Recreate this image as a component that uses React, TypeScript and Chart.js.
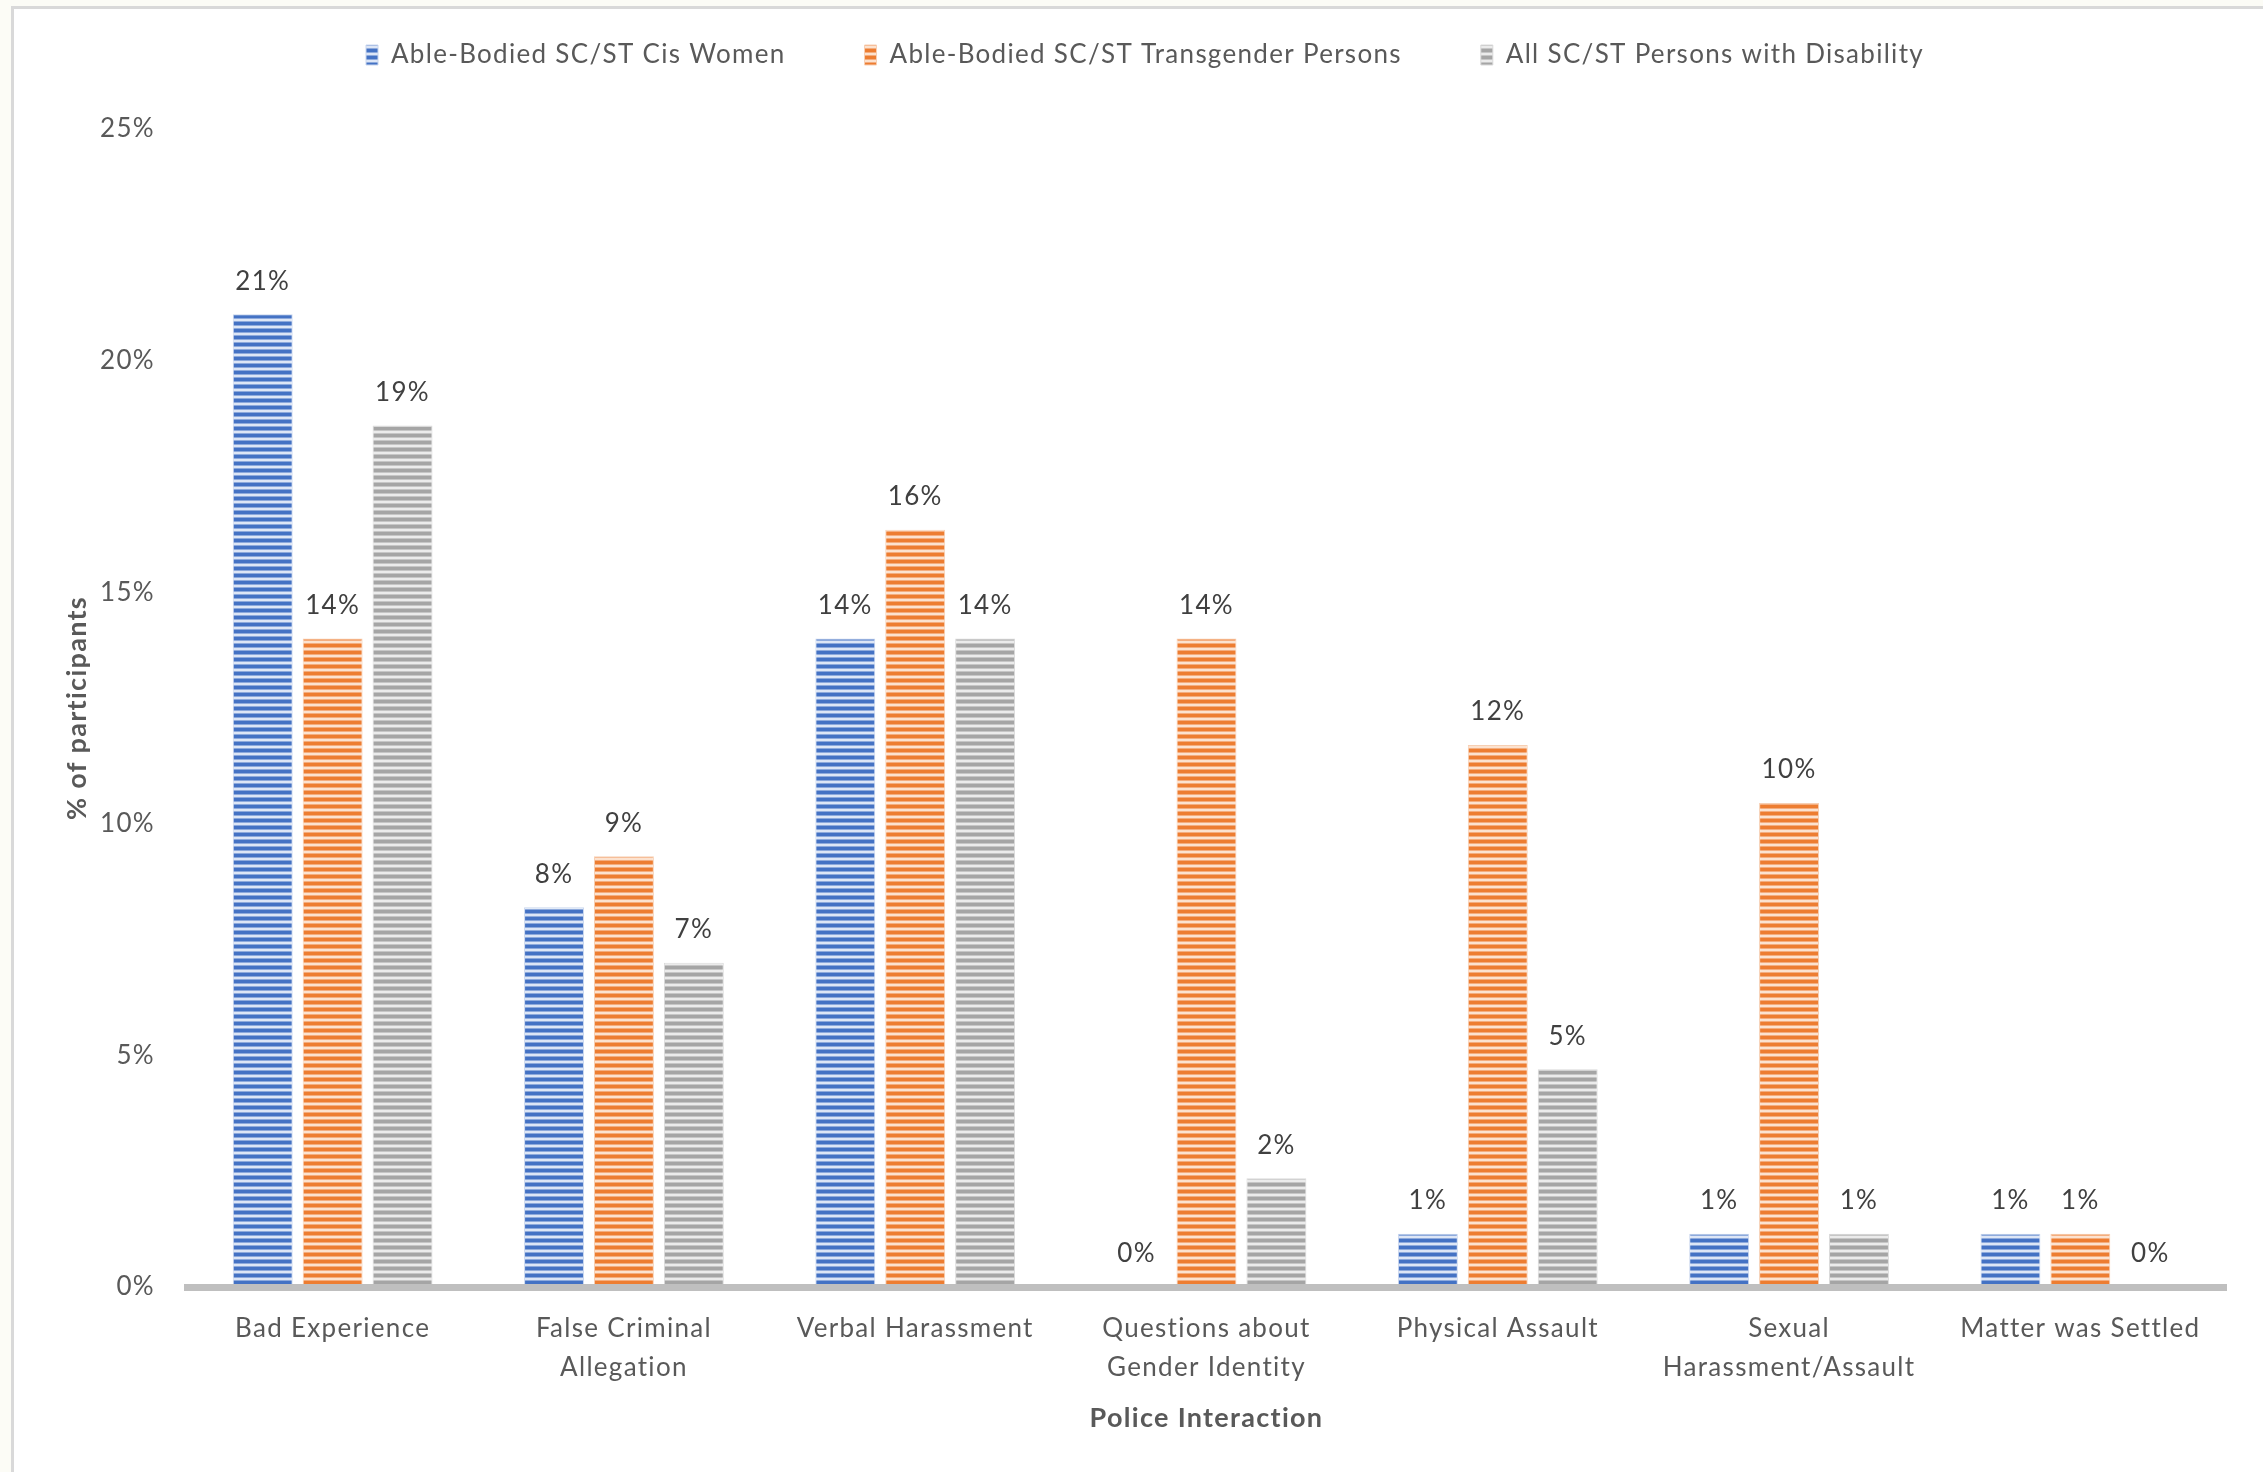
import React, { useEffect, useRef } from 'react';
import { Chart, registerables } from 'chart.js';

Chart.register(...registerables);

const categories: (string | string[])[] = [
  'Bad Experience',
  ['False Criminal', 'Allegation'],
  'Verbal Harassment',
  ['Questions about', 'Gender Identity'],
  'Physical Assault',
  ['Sexual', 'Harassment/Assault'],
  'Matter was Settled',
];

const seriesNames = [
  'Able-Bodied SC/ST Cis Women',
  'Able-Bodied SC/ST Transgender Persons',
  'All SC/ST Persons with Disability',
];

const cisWomen = [21.0, 8.2, 14.0, 0, 1.15, 1.15, 1.15];
const transgender = [14.0, 9.3, 16.35, 14.0, 11.7, 10.45, 1.15];
const disability = [18.6, 7.0, 14.0, 2.35, 4.7, 1.15, 0];

const yMax = 25;
const yStep = 5;

const xTitle = 'Police Interaction';
const yTitle = '% of participants';

const FONT = 'Lato';
const LETTER_SPACING = '1.3px';

function stripePattern(dark: string, mid: string, light: string): CanvasPattern | string {
  const c = document.createElement('canvas');
  c.width = 4;
  c.height = 7;
  const g = c.getContext('2d');
  if (!g) return dark;
  const rows = [dark, dark, dark, mid, light, light, mid];
  rows.forEach((col, i) => {
    g.fillStyle = col;
    g.fillRect(0, i, 4, 1);
  });
  return g.createPattern(c, 'repeat') || dark;
}

function applySpacing(chart: any) {
  try {
    (chart.ctx as any).letterSpacing = LETTER_SPACING;
  } catch (e) {
    /* ignore */
  }
}

const spacing = {
  id: 'spacing',
  beforeUpdate(chart: any) {
    applySpacing(chart);
  },
  beforeLayout(chart: any) {
    applySpacing(chart);
  },
  beforeDraw(chart: any) {
    applySpacing(chart);
  },
};

const valueLabels = {
  id: 'valueLabels',
  afterDatasetsDraw(chart: any) {
    const ctx = chart.ctx;
    ctx.save();
    ctx.font = `26px ${FONT}`;
    ctx.fillStyle = '#404040';
    ctx.textAlign = 'center';
    ctx.textBaseline = 'middle';
    chart.data.datasets.forEach((ds: any, i: number) => {
      const meta = chart.getDatasetMeta(i);
      meta.data.forEach((bar: any, j: number) => {
        const v = ds.data[j] as number;
        ctx.fillText(Math.round(v) + '%', bar.x, bar.y - 33);
      });
    });
    ctx.restore();
  },
};

export default function App() {
  const ref = useRef<HTMLCanvasElement | null>(null);

  useEffect(() => {
    if (!ref.current) return;
    const blue = stripePattern('#4472C4', '#8eaadc', '#dde6f6');
    const orange = stripePattern('#ED7D31', '#f4ad7e', '#fce2cf');
    const grey = stripePattern('#A5A5A5', '#c6c6c6', '#ebebeb');

    const common = { borderWidth: 1, categoryPercentage: 0.72, barPercentage: 0.857 };

    const chart = new Chart(ref.current, {
      type: 'bar',
      data: {
        labels: categories,
        datasets: [
          { label: seriesNames[0], data: cisWomen, backgroundColor: blue as any, borderColor: '#c9d6ee', ...common },
          { label: seriesNames[1], data: transgender, backgroundColor: orange as any, borderColor: '#f7cfb3', ...common },
          { label: seriesNames[2], data: disability, backgroundColor: grey as any, borderColor: '#dadada', ...common },
        ],
      },
      options: {
        responsive: false,
        animation: false,
        layout: { padding: { top: -37, right: 37, left: 64, bottom: 0 } },
        plugins: {
          legend: {
            position: 'top',
            labels: {
              color: '#595959',
              font: { family: FONT, size: 26 },
              boxWidth: 12,
              boxHeight: 20,
              padding: 79,
            },
          },
          title: {
            display: true,
            text: '',
            weight: 500,
            font: { size: 1, lineHeight: 1 },
            padding: { top: 50, bottom: 0 },
          },
          tooltip: { enabled: false },
        },
        scales: {
          x: {
            grid: { display: false, drawTicks: false },
            border: { display: true, color: '#BFBFBF', width: 7, z: 1 },
            ticks: {
              color: '#595959',
              font: { family: FONT, size: 26, lineHeight: 1.5 },
              padding: 22,
              maxRotation: 0,
              autoSkip: false,
            },
            title: {
              display: true,
              text: xTitle,
              color: '#595959',
              font: { family: FONT, size: 27, weight: 'bold' },
              padding: { top: 0, bottom: 38 },
            },
            afterFit(scale: any) {
              scale.height = 185;
            },
          },
          y: {
            min: 0,
            max: yMax,
            grid: { display: false, drawTicks: false },
            border: { display: false },
            ticks: {
              stepSize: yStep,
              color: '#595959',
              font: { family: FONT, size: 26 },
              padding: 32,
              callback: (v: any) => v + '%',
            },
            title: {
              display: true,
              text: yTitle,
              color: '#595959',
              font: { family: FONT, size: 27, weight: 'bold' },
              padding: { top: -3, bottom: 0 },
            },
            afterFit(scale: any) {
              scale.width = 123;
            },
          },
        },
      },
      plugins: [spacing, valueLabels],
    } as any);
    return () => chart.destroy();
  }, []);

  return (
    <div
      style={{
        position: 'fixed',
        left: 0,
        top: 0,
        width: 2263,
        height: 1472,
        overflow: 'hidden',
        background: '#fcfcf6',
      }}
    >
      <div
        style={{
          position: 'absolute',
          left: 11,
          top: 6,
          width: 2300,
          height: 1500,
          border: '3px solid #d9d9d9',
          background: '#ffffff',
        }}
      />
      <canvas
        ref={ref}
        width={2263}
        height={1472}
        style={{ position: 'absolute', left: 0, top: 0, width: 2263, height: 1472 }}
      />
    </div>
  );
}
